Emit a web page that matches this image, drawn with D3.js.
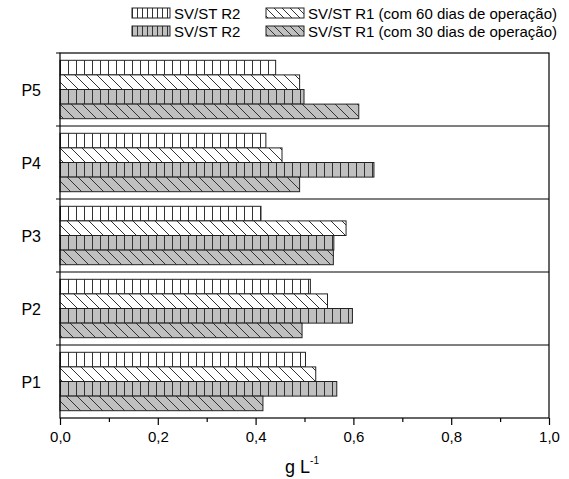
<!DOCTYPE html>
<html>
<head>
<meta charset="utf-8">
<script src="https://cdn.jsdelivr.net/npm/d3@7"></script>
<style>
  body { margin: 0; background: #fff; }
  svg { font-family: Arial, "Liberation Sans", sans-serif; }
</style>
</head>
<body>
<svg id="chart" width="569" height="479"></svg>
<script>
// categories, bottom to top as read on the chart
var points = ['P1', 'P2', 'P3', 'P4', 'P5'];

// series, top bar to bottom bar inside each group
var seriesNames = [
  'SV/ST R2',
  'SV/ST R1 (com 60 dias de operação)',
  'SV/ST R2',
  'SV/ST R1 (com 30 dias de operação)'
];

// values in g L-1, one per point (P1..P5)
var r2White = [0.502, 0.512, 0.411, 0.421, 0.441];
var r1Dias60 = [0.523, 0.547, 0.585, 0.454, 0.490];
var r2Gray = [0.566, 0.598, 0.560, 0.642, 0.499];
var r1Dias30 = [0.415, 0.495, 0.559, 0.490, 0.611];

var xTicks = [0, 0.2, 0.4, 0.6, 0.8, 1.0];
var xMinorTicks = [0.1, 0.3, 0.5, 0.7, 0.9];

var seriesValues = [r2White, r1Dias60, r2Gray, r1Dias30];
var seriesFill = ['vWhite', 'dWhite', 'vGray', 'dGray'];

var svg = d3.select('#chart');
var plotLeft = 60, plotRight = 549, plotTop = 53, plotBottom = 418;

var x = d3.scaleLinear().domain([0, 1]).range([plotLeft, plotRight]);
var y = d3.scaleBand().domain(points.slice().reverse()).range([plotTop, plotBottom]);
var ySub = d3.scaleBand().domain(d3.range(4)).range([0, y.bandwidth()])
  .paddingInner(0).paddingOuter(0.5);

// patterns for the hatched bars
var defs = svg.append('defs');
function stripes(id, bg, step, offsetX) {
  var p = defs.append('pattern').attr('id', id)
    .attr('patternUnits', 'userSpaceOnUse')
    .attr('x', offsetX).attr('width', step).attr('height', step);
  p.append('rect').attr('width', step).attr('height', step).attr('fill', bg);
  p.append('line').attr('x1', 0.5).attr('x2', 0.5).attr('y1', 0).attr('y2', step)
    .attr('stroke', '#333').attr('stroke-width', 1);
}
function diag(id, bg, step) {
  var p = defs.append('pattern').attr('id', id)
    .attr('patternUnits', 'userSpaceOnUse')
    .attr('width', step).attr('height', step);
  p.append('rect').attr('width', step).attr('height', step).attr('fill', bg);
  p.append('path')
    .attr('d', 'M0,0L' + step + ',' + step + 'M-2,' + (step - 2) + 'L2,' + (step + 2) +
      'M' + (step - 2) + ',-2L' + (step + 2) + ',2')
    .attr('stroke', '#333').attr('stroke-width', 1);
}
stripes('vWhite', '#fff', 8, plotLeft);
stripes('vGray', '#c0c0c0', 8, plotLeft);
diag('dWhite', '#fff', 11);
diag('dGray', '#c0c0c0', 11);
stripes('lvWhite', '#fff', 5, 0);
stripes('lvGray', '#c0c0c0', 5, 0);
diag('ldWhite', '#fff', 8);
diag('ldGray', '#c0c0c0', 8);

// bars
var rows = [];
points.forEach(function (p, i) {
  seriesValues.forEach(function (vals, s) {
    rows.push({ point: p, s: s, value: vals[i] });
  });
});

svg.append('g').selectAll('rect')
  .data(rows)
  .enter()
  .append('rect')
  .attr('x', x(0))
  .attr('y', function (d) { return y(d.point) + ySub(d.s); })
  .attr('width', function (d) { return x(d.value) - x(0); })
  .attr('height', ySub.bandwidth())
  .attr('fill', function (d) { return 'url(#' + seriesFill[d.s] + ')'; })
  .attr('stroke', '#222')
  .attr('stroke-width', 1);

// group separators and frame
svg.append('g').selectAll('line')
  .data(points.slice(1))
  .enter()
  .append('line')
  .attr('x1', plotLeft - 4).attr('x2', plotRight)
  .attr('y1', function (d) { return y(d) + y.bandwidth(); })
  .attr('y2', function (d) { return y(d) + y.bandwidth(); })
  .attr('stroke', '#000');

svg.append('rect')
  .attr('x', plotLeft).attr('y', plotTop)
  .attr('width', plotRight - plotLeft).attr('height', plotBottom - plotTop)
  .attr('fill', 'none').attr('stroke', '#000').attr('stroke-width', 1.2);

svg.append('line').attr('x1', plotLeft - 4).attr('x2', plotLeft)
  .attr('y1', plotTop).attr('y2', plotTop).attr('stroke', '#000');

// category labels
svg.append('g').selectAll('text')
  .data(points)
  .enter()
  .append('text')
  .attr('x', 41)
  .attr('y', function (d) { return y(d) + y.bandwidth() / 2 + 6; })
  .attr('text-anchor', 'end')
  .attr('font-size', 16)
  .text(function (d) { return d; });

// x axis
var fmt = function (d) { return d3.format('.1f')(d).replace('.', ','); };
var xAxis = svg.append('g').attr('transform', 'translate(0,' + plotBottom + ')')
  .call(d3.axisBottom(x).tickValues(xTicks).tickSize(7).tickFormat(fmt));
xAxis.select('.domain').remove();
xAxis.selectAll('.tick line').attr('stroke', '#000').attr('stroke-width', 1.2);
xAxis.selectAll('.tick text').attr('font-size', 15).attr('dy', '0.95em')
  .attr('font-family', 'Arial, "Liberation Sans", sans-serif').attr('fill', '#000');

var xMinor = svg.append('g').attr('transform', 'translate(0,' + plotBottom + ')')
  .call(d3.axisBottom(x).tickValues(xMinorTicks).tickSize(4).tickFormat(''));
xMinor.select('.domain').remove();
xMinor.selectAll('.tick line').attr('stroke', '#000').attr('stroke-width', 1.2);

// axis title
var title = svg.append('text')
  .attr('x', 302).attr('y', 473)
  .attr('text-anchor', 'middle')
  .attr('font-size', 18);
title.append('tspan').text('g L');
title.append('tspan').attr('dy', -9).attr('font-size', 10).text('-1');

// legend
var legendItems = [
  { fill: 'lvWhite', label: seriesNames[0], col: 0, row: 0 },
  { fill: 'ldWhite', label: seriesNames[1], col: 1, row: 0 },
  { fill: 'lvGray', label: seriesNames[2], col: 0, row: 1 },
  { fill: 'ldGray', label: seriesNames[3], col: 1, row: 1 }
];
var colX = [132, 266];
var rowY = [8, 26];

var legend = svg.append('g').selectAll('g')
  .data(legendItems)
  .enter()
  .append('g')
  .attr('transform', function (d) { return 'translate(' + colX[d.col] + ',' + rowY[d.row] + ')'; });

legend.append('rect')
  .attr('width', 38).attr('height', 10)
  .attr('fill', function (d) { return 'url(#' + d.fill + ')'; })
  .attr('stroke', '#222');

legend.append('text')
  .attr('x', 42).attr('y', 11)
  .attr('font-size', 15)
  .text(function (d) { return d.label; });
</script>
</body>
</html>
